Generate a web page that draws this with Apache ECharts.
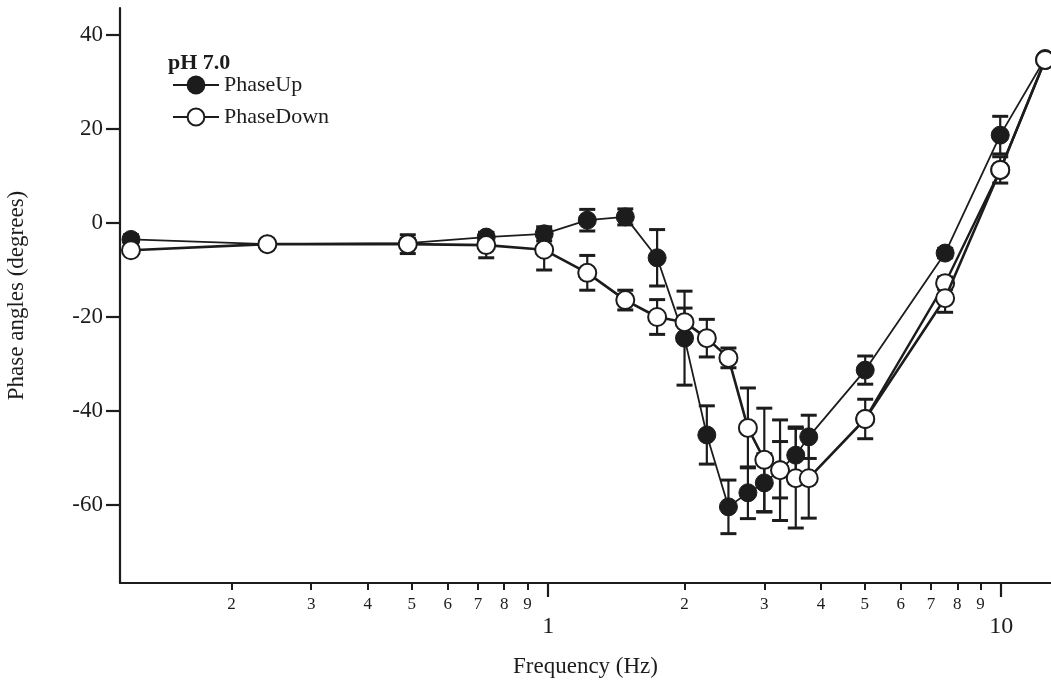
<!DOCTYPE html>
<html>
<head>
<meta charset="utf-8">
<script src="https://cdn.jsdelivr.net/npm/echarts@6/dist/echarts.min.js"></script>
<style>
  html, body { margin: 0; padding: 0; background: #ffffff; }
  #chart { width: 1051px; height: 693px; }
</style>
</head>
<body>
<div id="chart"></div>
<script>
// Stimulus frequencies (Hz) shared by both sweeps
const frequencies = [0.12, 0.24, 0.49, 0.73, 0.98, 1.22, 1.48, 1.74, 2.0, 2.24, 2.5, 2.76, 3.0, 3.25, 3.52, 3.76, 5.01, 7.52, 9.95, 12.5];

// Mean phase angle (degrees) and error (± degrees) for the upward sweep
const phaseUp    = [-3.5, -4.5, -4.3, -3.0, -2.3, 0.6, 1.3, -7.4, -24.5, -45.1, -60.4, -57.4, -55.3, -52.5, -49.4, -45.5, -31.3, -6.4, 18.7, 35.0];
const phaseUpErr = [1.0, 0.5, 1.0, 1.0, 1.5, 2.3, 1.7, 6.0, 10.0, 6.2, 5.7, 5.5, 6.2, 6.0, 6.0, 4.6, 3.0, 1.0, 4.0, 0];

// Mean phase angle (degrees) and error (± degrees) for the downward sweep
const phaseDown    = [-5.8, -4.5, -4.5, -4.7, -5.7, -10.6, -16.4, -20.0, -21.1, -24.5, -28.7, -43.6, -50.4, -52.6, -54.3, -54.3, -41.7, -16.0, 11.3, 34.7];
const phaseDownErr = [0.5, 0.5, 2.0, 2.7, 4.3, 3.7, 2.1, 3.7, 3.0, 4.0, 2.1, 8.5, 11.0, 10.7, 10.6, 8.5, 4.2, 3.0, 2.8, 0];

// Repeated downward-sweep readings at the high-frequency end
const phaseDownRepeatFreq = [5.01, 7.52, 9.95, 12.5];
const phaseDownRepeat     = [-41.7, -12.8, 11.3, 34.7];
const phaseDownRepeatErr  = [0, 1.3, 0, 0];

// Axis ticks
const yTicks = [-60, -40, -20, 0, 20, 40];
const xMajorTicks = [1, 10];
const xMinorTicks = [0.2, 0.3, 0.4, 0.5, 0.6, 0.7, 0.8, 0.9, 2, 3, 4, 5, 6, 7, 8, 9];

const INK = '#1c1c1c';
const FONT = '"Liberation Serif", "DejaVu Serif", serif';

function pairs(xs, ys) {
  return xs.map((x, i) => [x, ys[i]]);
}

// Minor decade ticks are labelled with their leading digit only
function leadingDigit(value) {
  const exp = Math.floor(Math.log10(value) + 1e-9);
  return String(Math.round(value / Math.pow(10, exp)));
}

// Vertical error bars with flat caps, drawn through the axes' own coordinate mapping
function errorBarSeries(xs, ys, errs) {
  const data = [];
  xs.forEach((x, i) => {
    if (errs[i] > 0) data.push([x, ys[i] - errs[i], ys[i] + errs[i]]);
  });
  return {
    type: 'custom',
    xAxisIndex: 0,
    yAxisIndex: 0,
    silent: true,
    z: 1,
    data: data,
    encode: { x: 0, y: [1, 2] },
    renderItem: function (params, api) {
      const x = api.value(0);
      const lo = api.coord([x, api.value(1)]);
      const hi = api.coord([x, api.value(2)]);
      const w = 8;
      return {
        type: 'group',
        children: [
          { type: 'line', shape: { x1: lo[0], y1: lo[1], x2: hi[0], y2: hi[1] }, style: { stroke: INK, lineWidth: 2.2 } },
          { type: 'line', shape: { x1: lo[0] - w, y1: lo[1], x2: lo[0] + w, y2: lo[1] }, style: { stroke: INK, lineWidth: 3 } },
          { type: 'line', shape: { x1: hi[0] - w, y1: hi[1], x2: hi[0] + w, y2: hi[1] }, style: { stroke: INK, lineWidth: 3 } }
        ]
      };
    }
  };
}

const chart = echarts.init(document.getElementById('chart'), null, { renderer: 'canvas' });

chart.setOption({
  animation: false,
  backgroundColor: '#ffffff',
  textStyle: { fontFamily: FONT, color: INK },
  title: {
    text: 'pH 7.0',
    left: 163,
    top: 47,
    textStyle: { fontFamily: FONT, fontSize: 22, fontWeight: 'bold', color: INK }
  },
  legend: {
    data: ['PhaseUp', 'PhaseDown'],
    orient: 'vertical',
    left: 167,
    top: 69,
    itemWidth: 46,
    itemHeight: 21,
    itemGap: 10,
    selectedMode: false,
    textStyle: { fontFamily: FONT, fontSize: 22, color: INK }
  },
  grid: { left: 120, right: 0, top: 8, bottom: 110, containLabel: false, outerBoundsMode: 'none' },
  xAxis: [
    {
      type: 'log',
      logBase: 10,
      min: 0.1135,
      max: 12.88,
      position: 'bottom',
      name: 'Frequency (Hz)',
      nameLocation: 'middle',
      nameGap: 72,
      nameTextStyle: { fontFamily: FONT, fontSize: 23, color: INK },
      axisLine: { show: true, onZero: false, lineStyle: { color: INK, width: 2.2 } },
      axisTick: { show: true, customValues: xMajorTicks, length: 14, lineStyle: { color: INK, width: 2.2 } },
      axisLabel: { show: true, customValues: xMajorTicks, margin: 32, fontFamily: FONT, fontSize: 24, color: INK },
      splitLine: { show: false },
      minorTick: { show: false }
    },
    {
      type: 'log',
      logBase: 10,
      min: 0.1135,
      max: 12.88,
      position: 'bottom',
      axisLine: { show: false, onZero: false },
      axisTick: { show: true, customValues: xMinorTicks, length: 7, lineStyle: { color: INK, width: 2 } },
      axisLabel: {
        show: true,
        customValues: xMinorTicks,
        formatter: leadingDigit,
        margin: 13,
        fontFamily: FONT,
        fontSize: 17,
        color: INK
      },
      splitLine: { show: false }
    }
  ],
  yAxis: {
    type: 'value',
    min: -76.6,
    max: 45.75,
    name: 'Phase angles (degrees)',
    nameLocation: 'middle',
    nameGap: 92,
    nameTextStyle: { fontFamily: FONT, fontSize: 23, color: INK },
    axisLine: { show: true, onZero: false, lineStyle: { color: INK, width: 2.2 } },
    axisTick: { show: true, customValues: yTicks, length: 14, lineStyle: { color: INK, width: 2.2 } },
    axisLabel: { show: true, customValues: yTicks, margin: 17, fontFamily: FONT, fontSize: 23, color: INK },
    splitLine: { show: false }
  },
  series: [
    errorBarSeries(frequencies, phaseUp, phaseUpErr),
    errorBarSeries(frequencies, phaseDown, phaseDownErr),
    errorBarSeries(phaseDownRepeatFreq, phaseDownRepeat, phaseDownRepeatErr),
    {
      name: 'PhaseUp',
      type: 'line',
      xAxisIndex: 0,
      z: 3,
      data: pairs(frequencies, phaseUp),
      symbol: 'circle',
      symbolSize: 18,
      lineStyle: { color: INK, width: 1.8 },
      itemStyle: { color: INK, borderColor: INK, borderWidth: 1 }
    },
    {
      name: 'PhaseDown',
      type: 'line',
      xAxisIndex: 0,
      z: 4,
      data: pairs(phaseDownRepeatFreq, phaseDownRepeat),
      symbol: 'circle',
      symbolSize: 18,
      lineStyle: { color: INK, width: 2.4 },
      itemStyle: { color: '#ffffff', borderColor: INK, borderWidth: 2 }
    },
    {
      name: 'PhaseDown',
      type: 'line',
      xAxisIndex: 0,
      z: 5,
      data: pairs(frequencies, phaseDown),
      symbol: 'circle',
      symbolSize: 18,
      lineStyle: { color: INK, width: 2.6 },
      itemStyle: { color: '#ffffff', borderColor: INK, borderWidth: 2 }
    }
  ]
});
</script>
</body>
</html>
